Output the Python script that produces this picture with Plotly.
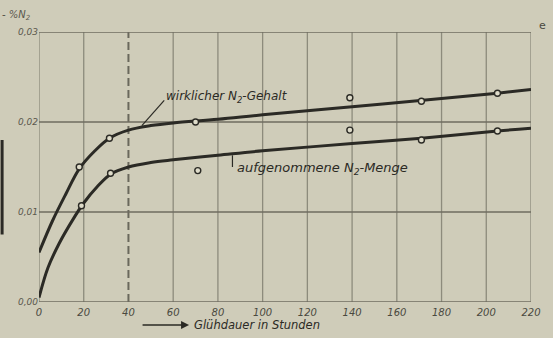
import plotly.graph_objects as go

# --- data ---
upper_t = [0, 6, 12, 18, 25, 31.5, 40, 50, 60, 80, 100, 140, 180, 205, 220]
upper_v = [0.0055, 0.0090, 0.0120, 0.0148, 0.0168, 0.0182, 0.0191, 0.0196, 0.0199, 0.0203, 0.0208, 0.0217, 0.0226, 0.0232, 0.0236]
lower_t = [0, 4, 9, 15, 20, 26, 32, 40, 50, 60, 80, 100, 140, 171, 205, 220]
lower_v = [0.0005, 0.0038, 0.0065, 0.0091, 0.0110, 0.0128, 0.0142, 0.0150, 0.0155, 0.0158, 0.0163, 0.0168, 0.0176, 0.0182, 0.0190, 0.0193]

meas_upper_t = [18, 31.5, 70, 139, 171, 205]
meas_upper_v = [0.0150, 0.0182, 0.0200, 0.0227, 0.0223, 0.0232]
meas_lower_t = [19, 32, 71, 139, 171, 205]
meas_lower_v = [0.0107, 0.0143, 0.0146, 0.0191, 0.0180, 0.0190]

x_ticks = [0, 20, 40, 60, 80, 100, 120, 140, 160, 180, 200, 220]
y_ticks = [0.0, 0.01, 0.02, 0.03]
y_labels = ["0,00", "0,01", "0,02", "0,03"]

BG = "#cfccb9"
INK = "#2b2a25"
GRID = "#8d8b7c"
FONT = "DejaVu Sans"

fig = go.Figure()

# grid lines
for t in x_ticks:
    if t == 40:
        continue
    fig.add_shape(type="line", x0=t, x1=t, y0=0, y1=0.03, xref="x", yref="y",
                  line=dict(color=GRID, width=1.3), layer="below")
fig.add_shape(type="line", x0=40, x1=40, y0=0, y1=0.03, xref="x", yref="y",
              line=dict(color="#6a685c", width=2, dash="8px,4px"), layer="below")
for v in y_ticks:
    fig.add_shape(type="line", x0=0, x1=220, y0=v, y1=v, xref="x", yref="y",
                  line=dict(color="#6f6d60", width=1.4), layer="below")

for tt, vv in [(upper_t, upper_v), (lower_t, lower_v)]:
    fig.add_trace(go.Scatter(x=tt, y=vv, mode="lines",
                             line=dict(color=INK, width=3, shape="spline", smoothing=1.0),
                             hoverinfo="skip", showlegend=False))
for tt, vv in [(meas_upper_t, meas_upper_v), (meas_lower_t, meas_lower_v)]:
    fig.add_trace(go.Scatter(x=tt, y=vv, mode="markers",
                             marker=dict(symbol="circle", size=6, color="#dedbc9",
                                         line=dict(color=INK, width=1.4)),
                             showlegend=False))

# leader lines
fig.add_shape(type="line", x0=46, x1=56, y0=0.0196, y1=0.0224, xref="x", yref="y",
              line=dict(color=INK, width=1.2))
fig.add_shape(type="line", x0=86.5, x1=86.5, y0=0.0163, y1=0.0150, xref="x", yref="y",
              line=dict(color=INK, width=1.2))

fig.add_annotation(x=56, y=0.0228, xref="x", yref="y", xanchor="left", yanchor="middle",
                   text="wirklicher N<sub>2</sub>-Gehalt", showarrow=False,
                   font=dict(family=FONT, size=12, color=INK, style="italic"))
fig.add_annotation(x=87.5, y=0.0148, xref="x", yref="y", xanchor="left", yanchor="middle",
                   text="aufgenommene N<sub>2</sub>-Menge", showarrow=False,
                   font=dict(family=FONT, size=13, color=INK, style="italic"))

# axis label bits
fig.add_annotation(x=-0.045, y=1.06, xref="paper", yref="paper", xanchor="center",
                   yanchor="middle", text="- %N<sub>2</sub>", showarrow=False,
                   font=dict(family=FONT, size=10, color="#5a584d", style="italic"))
fig.add_annotation(x=1.012, y=1.025, xref="paper", yref="paper", xanchor="left",
                   yanchor="middle", text="e", showarrow=False,
                   font=dict(family=FONT, size=11, color="#4a4940"))
fig.add_shape(type="line", x0=-0.075, x1=-0.075, y0=0.25, y1=0.60, xref="paper", yref="paper",
              line=dict(color=INK, width=3))

# x-axis title with arrow
fig.add_annotation(x=0.305, y=-0.085, xref="paper", yref="paper",
                   ax=-48, ay=0, axref="pixel", ayref="pixel", text="",
                   showarrow=True, arrowhead=2, arrowsize=1, arrowwidth=1.6, arrowcolor=INK)
fig.add_annotation(x=0.311, y=-0.085, xref="paper", yref="paper", xanchor="left",
                   yanchor="middle", text="Glühdauer in Stunden", showarrow=False,
                   font=dict(family=FONT, size=11.5, color=INK, style="italic"))

fig.update_xaxes(range=[0, 220], tickvals=x_ticks, ticktext=[str(t) for t in x_ticks],
                 showgrid=False, zeroline=False, showline=False, ticks="",
                 ticklabelstandoff=3,
                 tickfont=dict(family=FONT, size=10, color="#4a4940", style="italic"))
fig.update_yaxes(range=[0, 0.03], tickvals=y_ticks, ticktext=y_labels,
                 showgrid=False, zeroline=False, showline=False, ticks="",
                 tickfont=dict(family=FONT, size=9, color="#5a584d", style="italic"))

fig.update_layout(width=553, height=338, margin=dict(l=39, r=19, t=32, b=36),
                  paper_bgcolor=BG, plot_bgcolor=BG, showlegend=False)

fig.write_html("out.html", config={"displayModeBar": False},
               post_script="document.body.style.margin='0';"
                           "document.body.style.background='" + BG + "';"
                           "document.body.style.overflow='hidden';")
